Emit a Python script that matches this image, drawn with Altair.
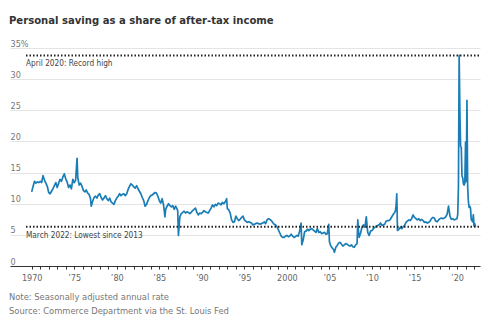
import altair as alt
import pandas as pd

TITLE = "Personal saving as a share of after-tax income"
NOTE = "Note: Seasonally adjusted annual rate"
SOURCE = "Source: Commerce Department via the St. Louis Fed"
HIGH_LABEL = "April 2020: Record high"
LOW_LABEL = "March 2022: Lowest since 2013"

y_ticks = [0, 5, 10, 15, 20, 25, 30, 35]
x_ticks = list(range(1970, 2023))

months_1970s = [
    "1970-01", "1970-03", "1970-05", "1970-07", "1970-09", "1970-11",
    "1971-01", "1971-03", "1971-05", "1971-07", "1971-09", "1971-11",
    "1972-01", "1972-03", "1972-05", "1972-07", "1972-09", "1972-11",
    "1973-01", "1973-03", "1973-05", "1973-07", "1973-09", "1973-11",
    "1974-01", "1974-03", "1974-05", "1974-07", "1974-09", "1974-11",
    "1975-01", "1975-03", "1975-05", "1975-06", "1975-08", "1975-10", "1975-12",
    "1976-02", "1976-04", "1976-06", "1976-08", "1976-10", "1976-12",
    "1977-01", "1977-03", "1977-05", "1977-07", "1977-09", "1977-11",
    "1978-01", "1978-03", "1978-05", "1978-07", "1978-09", "1978-11",
    "1979-01", "1979-03", "1979-05", "1979-07", "1979-09", "1979-11",
]
rate_1970s = [
    11.9, 12.8, 13.6, 13.3, 13.5, 13.4,
    13.6, 13.4, 14.5, 13.8, 13.3, 12.8,
    11.8, 11.6, 12.0, 12.4, 12.9, 13.4,
    12.6, 13.3, 13.9, 13.6, 14.3, 14.8,
    14.0, 13.5, 12.6, 13.0, 12.4, 13.9,
    13.4, 13.8, 17.3, 14.2, 13.0, 13.3, 12.8,
    12.1, 11.9, 12.2, 11.7, 11.5, 10.8,
    9.6, 10.4, 11.0, 11.2, 10.9, 11.4,
    11.6, 11.0, 10.6, 10.9, 11.3, 10.8,
    10.5, 10.9, 10.3, 10.1, 9.9, 10.5,
]

months_1980s = [
    "1980-01", "1980-03", "1980-05", "1980-07", "1980-09", "1980-11",
    "1981-01", "1981-03", "1981-05", "1981-07", "1981-09", "1981-11",
    "1982-01", "1982-03", "1982-05", "1982-07", "1982-09", "1982-11",
    "1983-01", "1983-03", "1983-05", "1983-07", "1983-09", "1983-11",
    "1984-01", "1984-03", "1984-05", "1984-07", "1984-09", "1984-11",
    "1985-01", "1985-03", "1985-05", "1985-07", "1985-09", "1985-10", "1985-12",
    "1986-02", "1986-04", "1986-06", "1986-08", "1986-10", "1986-12",
    "1987-01", "1987-03", "1987-04", "1987-06", "1987-08", "1987-10", "1987-12",
    "1988-02", "1988-04", "1988-06", "1988-08", "1988-10", "1988-12",
    "1989-02", "1989-04", "1989-06", "1989-08", "1989-10", "1989-12",
]
rate_1980s = [
    10.9, 11.2, 11.6, 11.3, 11.5, 11.6,
    11.3, 11.6, 12.3, 12.8, 13.2, 13.0,
    12.7, 12.5, 12.9, 12.4, 12.0, 11.6,
    11.0, 10.5, 9.6, 9.9, 10.5, 11.0,
    11.3, 11.4, 11.6, 11.8, 11.7, 11.2,
    10.5, 10.1, 10.8, 9.8, 7.9, 9.1, 9.6,
    10.0, 9.7, 9.5, 9.7, 9.1, 9.6,
    9.4, 8.9, 4.9, 7.9, 8.4, 8.6, 8.8,
    8.5, 8.7, 8.6, 8.4, 8.6, 8.9,
    9.1, 9.3, 8.6, 8.2, 8.5, 8.4,
]

months_1990s = [
    "1990-02", "1990-04", "1990-06", "1990-08", "1990-10", "1990-12",
    "1991-02", "1991-04", "1991-06", "1991-08", "1991-10", "1991-12",
    "1992-02", "1992-04", "1992-06", "1992-08", "1992-10", "1992-12",
    "1993-01", "1993-03", "1993-05", "1993-07", "1993-09", "1993-11",
    "1994-01", "1994-03", "1994-05", "1994-07", "1994-09", "1994-11",
    "1995-01", "1995-03", "1995-05", "1995-07", "1995-09", "1995-11",
    "1996-01", "1996-03", "1996-05", "1996-07", "1996-09", "1996-11",
    "1997-01", "1997-03", "1997-05", "1997-07", "1997-09", "1997-11",
    "1998-01", "1998-03", "1998-05", "1998-07", "1998-09", "1998-11",
    "1999-01", "1999-03", "1999-05", "1999-07", "1999-09", "1999-11",
]
rate_1990s = [
    8.6, 8.9, 8.7, 8.6, 8.5, 8.9,
    9.3, 9.8, 9.5, 9.9, 9.7, 10.1,
    10.0, 9.8, 10.2, 10.0, 10.3, 10.8,
    9.2, 9.0, 8.5, 7.4, 7.0, 7.1,
    8.0, 7.6, 7.3, 7.5, 7.8, 8.0,
    7.4, 7.2, 7.0, 7.1, 7.0, 6.9,
    6.6, 6.7, 6.8, 6.9, 6.8, 6.7,
    6.8, 6.9, 7.1, 6.8, 7.4, 7.6,
    7.5, 7.3, 7.0, 6.7, 6.6, 6.3,
    5.8, 5.3, 4.8, 4.6, 4.6, 4.8,
]

months_2000s = [
    "2000-01", "2000-03", "2000-05", "2000-07", "2000-09", "2000-11",
    "2001-01", "2001-03", "2001-05", "2001-07", "2001-09", "2001-10", "2001-12",
    "2002-02", "2002-04", "2002-06", "2002-08", "2002-10", "2002-12",
    "2003-02", "2003-04", "2003-06", "2003-08", "2003-10", "2003-12",
    "2004-02", "2004-04", "2004-06", "2004-08", "2004-10", "2004-12",
    "2005-01", "2005-03", "2005-05", "2005-07", "2005-08", "2005-10", "2005-12",
    "2006-02", "2006-04", "2006-06", "2006-08", "2006-10", "2006-12",
    "2007-02", "2007-04", "2007-06", "2007-08", "2007-10", "2007-12",
    "2008-02", "2008-04", "2008-05", "2008-06", "2008-07", "2008-09", "2008-11",
    "2009-01", "2009-03", "2009-05", "2009-07", "2009-09", "2009-11",
]
rate_2000s = [
    4.9, 4.7, 4.8, 5.1, 4.8, 4.6,
    4.7, 4.9, 4.8, 5.6, 6.9, 3.4, 4.2,
    5.5, 5.6, 5.9, 5.7, 5.9, 6.0,
    5.8, 5.6, 5.4, 6.0, 5.4, 5.5,
    5.2, 5.3, 5.4, 5.1, 5.2, 6.7,
    3.9, 3.2, 2.9, 2.6, 2.2, 3.0, 3.3,
    3.7, 3.8, 3.5, 3.2, 3.4, 3.6,
    3.5, 3.3, 3.2, 3.4, 3.1, 3.0,
    3.4, 3.6, 7.4, 5.6, 4.6, 5.3, 6.3,
    6.6, 6.2, 7.9, 5.4, 4.9, 5.6,
]

months_2010s = [
    "2010-01", "2010-03", "2010-05", "2010-07", "2010-09", "2010-11",
    "2011-01", "2011-03", "2011-05", "2011-07", "2011-09", "2011-11",
    "2012-01", "2012-03", "2012-05", "2012-07", "2012-09", "2012-10", "2012-11", "2012-12",
    "2013-01", "2013-03", "2013-05", "2013-07", "2013-09", "2013-11",
    "2014-01", "2014-03", "2014-05", "2014-07", "2014-09", "2014-11",
    "2015-01", "2015-03", "2015-05", "2015-07", "2015-09", "2015-11",
    "2016-01", "2016-03", "2016-05", "2016-07", "2016-09", "2016-11",
    "2017-01", "2017-03", "2017-05", "2017-07", "2017-09", "2017-11",
    "2018-01", "2018-03", "2018-05", "2018-07", "2018-09", "2018-11",
    "2019-01", "2019-03", "2019-05", "2019-07", "2019-09", "2019-11",
]
rate_2010s = [
    5.7, 6.0, 6.2, 6.4, 6.5, 6.6,
    6.9, 6.5, 6.6, 6.7, 7.2, 7.3,
    7.3, 7.5, 7.9, 8.3, 8.6, 8.8, 9.6, 11.6,
    5.7, 5.9, 6.2, 6.0, 6.3, 6.5,
    7.0, 7.2, 7.4, 7.3, 7.6, 8.2,
    7.8, 7.6, 7.4, 7.6, 7.3, 7.5,
    7.3, 7.0, 7.1, 6.9, 7.0, 7.2,
    7.6, 7.8, 7.7, 7.2, 7.1, 7.4,
    7.6, 7.7, 7.6, 7.7, 7.9, 8.3,
    9.6, 8.0, 7.5, 7.6, 7.4, 7.5,
]

months_2020s = [
    "2020-01", "2020-02", "2020-03", "2020-04", "2020-05", "2020-06",
    "2020-07", "2020-08", "2020-09", "2020-10", "2020-11", "2020-12",
    "2021-01", "2021-02", "2021-03", "2021-04", "2021-05", "2021-06",
    "2021-07", "2021-08", "2021-09", "2021-10", "2021-11", "2021-12",
    "2022-01", "2022-02", "2022-03",
]
rate_2020s = [
    7.6, 8.3, 12.8, 33.8, 24.9, 19.2,
    19.0, 14.4, 14.2, 13.2, 13.0, 13.3,
    19.9, 13.6, 26.6, 12.7, 10.4, 9.4,
    9.6, 9.3, 7.5, 7.3, 7.1, 8.2,
    6.4, 6.8, 6.3,
]

months = months_1970s + months_1980s + months_1990s + months_2000s + months_2010s + months_2020s
rate = rate_1970s + rate_1980s + rate_1990s + rate_2000s + rate_2010s + rate_2020s

df = pd.DataFrame({"month": months, "rate": rate})
df["t"] = df["month"].str[:4].astype(int) + (df["month"].str[5:].astype(int) - 1) / 12.0

ref = pd.DataFrame({"rate": [max(rate), rate[-1]], "label": [HIGH_LABEL, LOW_LABEL]})

FONT = "DejaVu Sans Condensed, sans-serif"

x_scale = alt.Scale(domain=[1967.45, 2022.7], nice=False, zero=False)
y_scale = alt.Scale(domain=[0, 35], nice=False)

x_label_expr = (
    "datum.value % 5 == 0 ? ((datum.value == 1970 || datum.value == 2000) ? "
    "toString(datum.value) : '\u2019' + substring(toString(datum.value), 2)) : ''"
)
y_label_expr = (
    "datum.value == 35 ? '35%' : (datum.value < 10 ? '\u2007' + toString(datum.value) : toString(datum.value))"
)

y_axis = alt.Axis(
    values=y_ticks, grid=True, gridColor="#e4e4e4", gridWidth=1, domain=False,
    ticks=False, tickSize=0, labelAlign="left", labelBaseline="alphabetic",
    labelPadding=0, labelOffset=-2, labelExpr=y_label_expr, labelFont=FONT,
    labelFontSize=9, labelColor="#777", title=None)

line = alt.Chart(df).mark_line(color="#1a7db6", strokeWidth=1.7, strokeJoin="round").encode(
    x=alt.X("t:Q", scale=x_scale, axis=alt.Axis(
        values=x_ticks, grid=False, domain=True, domainColor="#333", domainWidth=1,
        ticks=True, tickColor="#333", tickSize=3, tickWidth=1,
        labelExpr=x_label_expr, labelPadding=4, labelFont=FONT, labelFontSize=9,
        labelColor="#666", labelOverlap=False, labelFlush=False, title=None)),
    y=alt.Y("rate:Q", scale=y_scale, axis=y_axis),
)

rules = alt.Chart(ref).mark_rule(strokeDash=[1.5, 2], strokeWidth=2, color="#222").encode(
    y=alt.Y("rate:Q", scale=y_scale, axis=y_axis),
    x=alt.value(16), x2=alt.value(470),
)

ref_text = alt.Chart(ref).mark_text(align="left", baseline="middle", dy=9, fontSize=8.2,
                                    color="#444", font=FONT).encode(
    y=alt.Y("rate:Q", scale=y_scale, axis=y_axis),
    x=alt.value(16),
    text="label:N",
)

title = alt.Chart(pd.DataFrame({"text": [TITLE]})).mark_text(
    align="left", baseline="middle", fontSize=11.2, fontWeight="bold", color="#333", font=FONT
).encode(x=alt.value(-1), y=alt.value(-27), text="text:N")

note = alt.Chart(pd.DataFrame({"text": [NOTE]})).mark_text(
    align="left", baseline="middle", fontSize=9.3, color="#777", font=FONT
).encode(x=alt.value(-1), y=alt.value(248.5), text="text:N")

source = alt.Chart(pd.DataFrame({"text": [SOURCE]})).mark_text(
    align="left", baseline="middle", fontSize=9.3, color="#777", font=FONT
).encode(x=alt.value(-1), y=alt.value(262.5), text="text:N")

chart = alt.layer(line, rules, ref_text, title, note, source).properties(
    width=470, height=218,
    autosize=alt.AutoSizeParams(type="none"),
    padding={"left": 10, "top": 48, "right": 22, "bottom": 59},
    background="white",
).configure_view(stroke=None)

chart.save("out.html", embed_options={"renderer": "svg", "actions": False})
